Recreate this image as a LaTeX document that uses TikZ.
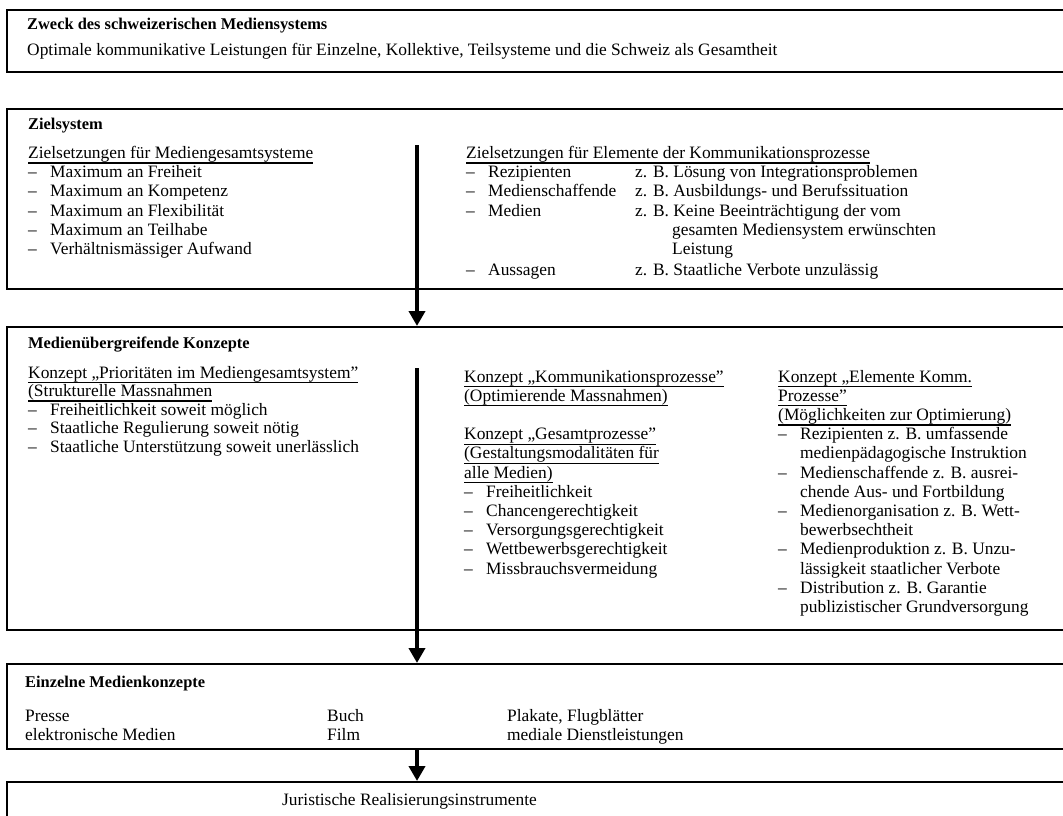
\documentclass[tikz,border=0pt]{standalone}
\usepackage{fontspec}
\setmainfont{Liberation Serif}
\usetikzlibrary{arrows.meta}
\newcommand\ulin[1]{\leavevmode\setbox0\hbox{#1}\rlap{\rule[-5.2pt]{\wd0}{1.3pt}}\box0}
\newcommand\itm[1]{\makebox[22pt][l]{–}#1}
\begin{document}
\begin{tikzpicture}[x=1pt,y=-1pt,
  box/.style={draw, line width=1.6pt, anchor=north west, inner sep=0pt, minimum width=1070pt},
  txt/.style={anchor=base west, inner sep=0pt, font=\fontsize{17.4}{19.2}\selectfont},
  ttl/.style={anchor=base west, inner sep=0pt, font=\fontsize{16.4}{19.2}\selectfont\bfseries},
  arr/.style={line width=4pt, -{Triangle[width=16pt,length=15pt]}}]
\useasboundingbox (0,0) rectangle (1063,816);
\clip (0,0) rectangle (1063,816);
% boxes
\node[box, minimum height=62pt]  (b1) at (6,9) {};
\node[box, minimum height=180pt] (b2) at (6,108) {};
\node[box, minimum height=303pt] (b3) at (6,326) {};
\node[box, minimum height=85pt]  (b4) at (6,663) {};
\node[box, minimum height=60pt]  (b5) at (6,781) {};
% arrows
\coordinate (a1) at (417,145);
\coordinate (a2) at (417,368);
\draw[arr] (a1) -- (a1 |- b3.north);
\draw[arr] (a2) -- (a2 |- b4.north);
\draw[arr] (b4.south -| a2) -- (a2 |- b5.north);
% box 1
\node[ttl] (t1) at (27,30) {Zweck des schweizerischen Mediensystems};
\node[txt] (t2) at (27,56) {Optimale kommunikative Leistungen für Einzelne, Kollektive, Teilsysteme und die Schweiz als Gesamtheit};
% box 2
\node[ttl] (z0) at (28,129) {Zielsystem};
\node[txt] (zl0) at (28,158.5) {\ulin{Zielsetzungen für Mediengesamtsysteme}};
\foreach \t [count=\i] in {Maximum an Freiheit, Maximum an Kompetenz, Maximum an Flexibilität, Maximum an Teilhabe, Verhältnismässiger Aufwand}
  \node[txt] (zl\i) at (28,{158.5+19.2*\i}) {\itm{\t}};
\node[txt] (zr0) at (466,158.5) {\ulin{Zielsetzungen für Elemente der Kommunikationsprozesse}};
\node[txt] (zr1) at (466,177.7) {\itm{Rezipienten}};
\node[txt] (zr1b) at (635,177.7) {z. B. Lösung von Integrationsproblemen};
\node[txt] (zr2) at (466,196.9) {\itm{Medienschaffende}};
\node[txt] (zr2b) at (635,196.9) {z. B. Ausbildungs- und Berufssituation};
\node[txt] (zr3) at (466,216.1) {\itm{Medien}};
\node[txt] (zr3b) at (635,216.1) {z. B. Keine Beeinträchtigung der vom};
\node[txt] (zr3c) at (672,235.3) {gesamten Mediensystem erwünschten};
\node[txt] (zr3d) at (672,254.5) {Leistung};
\node[txt] (zr4) at (466,275) {\itm{Aussagen}};
\node[txt] (zr4b) at (635,275) {z. B. Staatliche Verbote unzulässig};
% box 3
\node[ttl] (m0) at (28,348) {Medienübergreifende Konzepte};
\node[txt] (ml1) at (28,378) {\ulin{Konzept „Prioritäten im Mediengesamtsystem”}};
\node[txt] (ml2) at (28,396.5) {\ulin{(Strukturelle Massnahmen}};
\node[txt] (ml3) at (28,415) {\itm{Freiheitlichkeit soweit möglich}};
\node[txt] (ml4) at (28,433.5) {\itm{Staatliche Regulierung soweit nötig}};
\node[txt] (ml5) at (28,452) {\itm{Staatliche Unterstützung soweit unerlässlich}};
\node[txt] (mm0) at (464,382) {\ulin{Konzept „Kommunikationsprozesse”}};
\node[txt] (mm1) at (464,401.2) {\ulin{(Optimierende Massnahmen)}};
\node[txt] (mm3) at (464,439.6) {\ulin{Konzept „Gesamtprozesse”}};
\node[txt] (mm4) at (464,458.8) {\ulin{(Gestaltungsmodalitäten für}};
\node[txt] (mm5) at (464,478) {\ulin{alle Medien)}};
\foreach \t [count=\i] in {Freiheitlichkeit, Chancengerechtigkeit, Versorgungsgerechtigkeit, Wettbewerbsgerechtigkeit, Missbrauchsvermeidung}
  \node[txt] (mi\i) at (464,{478+19.2*\i}) {\itm{\t}};
\node[txt] (mr0) at (778,382) {\ulin{Konzept „Elemente Komm.}};
\node[txt] (mr1) at (778,401.2) {\ulin{Prozesse”}};
\node[txt] (mr2) at (778,420.4) {\ulin{(Möglichkeiten zur Optimierung)}};
\node[txt] (mr3) at (778,439.6) {\itm{Rezipienten z. B. umfassende}};
\node[txt] (mr4) at (800,458.8) {medienpädagogische Instruktion};
\node[txt] (mr5) at (778,478) {\itm{Medienschaffende z. B. ausrei-}};
\node[txt] (mr6) at (800,497.2) {chende Aus- und Fortbildung};
\node[txt] (mr7) at (778,516.4) {\itm{Medienorganisation z. B. Wett-}};
\node[txt] (mr8) at (800,535.6) {bewerbsechtheit};
\node[txt] (mr9) at (778,554.8) {\itm{Medienproduktion z. B. Unzu-}};
\node[txt] (mr10) at (800,574) {lässigkeit staatlicher Verbote};
\node[txt] (mr11) at (778,593.2) {\itm{Distribution z. B. Garantie}};
\node[txt] (mr12) at (800,612.4) {publizistischer Grundversorgung};
% box 4
\node[ttl] (e0) at (25,687) {Einzelne Medienkonzepte};
\node[txt] (e1) at (25,721) {Presse};
\node[txt] (e2) at (25,740) {elektronische Medien};
\node[txt] (e3) at (327,721) {Buch};
\node[txt] (e4) at (327,740) {Film};
\node[txt] (e5) at (507,721) {Plakate, Flugblätter};
\node[txt] (e6) at (507,740) {mediale Dienstleistungen};
% box 5
\node[txt] (j0) at (282,805) {Juristische Realisierungsinstrumente};
\end{tikzpicture}
\end{document}
